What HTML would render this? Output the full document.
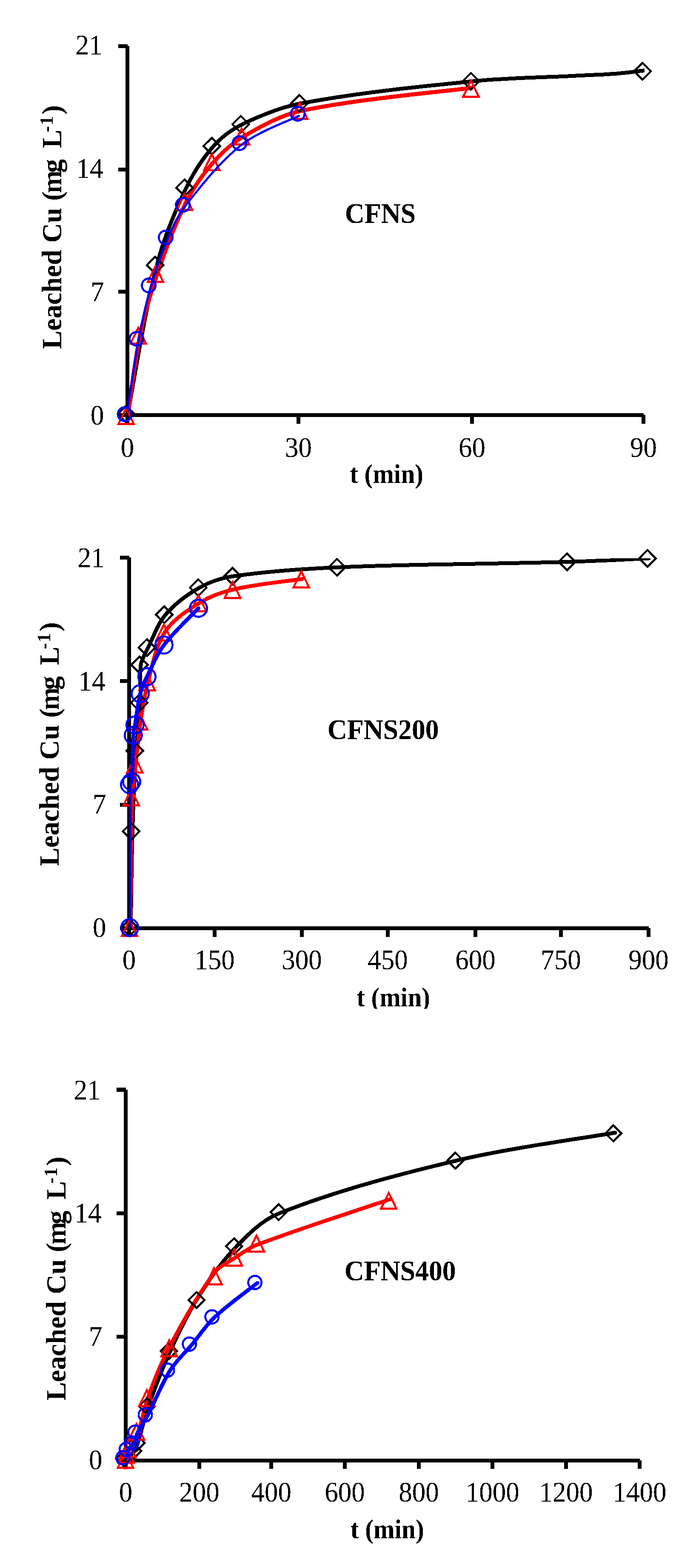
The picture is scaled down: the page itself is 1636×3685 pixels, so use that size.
<!DOCTYPE html>
<html><head><meta charset="utf-8"><title>Leached Cu vs time</title>
<style>html,body{margin:0;padding:0;background:#fff}svg{display:block}</style></head>
<body><svg width="1636" height="3685" viewBox="0 0 1636 3685">
<defs><filter id="bin" filterUnits="userSpaceOnUse" x="0" y="0" width="1636" height="3685" color-interpolation-filters="sRGB"><feComponentTransfer><feFuncR type="discrete" tableValues="0 1"/><feFuncG type="discrete" tableValues="0 1"/><feFuncB type="discrete" tableValues="0 1"/></feComponentTransfer></filter></defs>
<g filter="url(#bin)">
<rect width="1636" height="3685" fill="#fff"/>
<g fill="#000">
<rect x="295" y="108" width="9" height="872"/>
<rect x="295" y="971" width="1218" height="9"/>
<rect x="278" y="104" width="22" height="9"/>
<rect x="278" y="394" width="22" height="9"/>
<rect x="278" y="681" width="22" height="9"/>
<rect x="278" y="971" width="22" height="9"/>
<rect x="295" y="975" width="9" height="21"/>
<rect x="697" y="975" width="9" height="21"/>
<rect x="1105" y="975" width="9" height="21"/>
<rect x="1508" y="975" width="9" height="21"/>
</g>
<g font-family="'Liberation Serif','Times New Roman',Times,serif" font-size="67" fill="#000">
<text transform="translate(240.5 127.6) scale(0.94 1)" text-anchor="end">21</text>
<text transform="translate(242.5 417.8) scale(0.94 1)" text-anchor="end">14</text>
<text transform="translate(244.5 708) scale(0.94 1)" text-anchor="end">7</text>
<text transform="translate(244.5 998.2) scale(0.94 1)" text-anchor="end">0</text>
<text transform="translate(299.5 1073.7) scale(0.94 1)" text-anchor="middle">0</text>
<text transform="translate(701.5 1073.7) scale(0.94 1)" text-anchor="middle">30</text>
<text transform="translate(1109.5 1073.7) scale(0.94 1)" text-anchor="middle">60</text>
<text transform="translate(1512.5 1073.7) scale(0.94 1)" text-anchor="middle">90</text>
</g>
<text font-family="'Liberation Serif','Times New Roman',Times,serif" font-weight="bold" font-size="64" transform="translate(908.5 1135) scale(0.927 1)" text-anchor="middle">t (min)</text>
<text font-family="'Liberation Serif','Times New Roman',Times,serif" font-weight="bold" font-size="66" transform="translate(144 820.3) rotate(-90) scale(0.98 1)">Leached Cu (<tspan dx="-4">m</tspan><tspan dx="-6">g</tspan><tspan dx="10"> L</tspan><tspan font-size="44" dx="-6" dy="-20.4">-</tspan><tspan font-size="44" dx="2">1</tspan><tspan dx="4" dy="20.4">)</tspan></text>
<text font-family="'Liberation Serif','Times New Roman',Times,serif" font-weight="bold" font-size="67.7" transform="translate(810.8 523.6) scale(0.941 1)">CFNS</text>
<clipPath id="c1pa"><rect x="300" y="0" width="1336" height="975.5"/></clipPath>
<path clip-path="url(#c1pa)" fill="none" stroke-linejoin="round" stroke-linecap="butt" stroke="#000" stroke-width="9" d="M300 975 C311.4 916.4 338.9 738.5 368.7 623.2 C384.8 560.6 410 499.5 437.7 441.3 C454.4 406.3 476.4 372.2 501.9 343.4 C520.5 322.4 544.7 304.3 570 292 C613.3 270.9 660.1 251.9 707.8 243 C840.4 218.2 976.3 204.6 1111 191 C1190.3 183 1270.3 182.4 1350 178.2 C1383.3 176.4 1416.7 175.6 1450 173 C1471.7 171.3 1504.2 166.8 1515 165.5"/>
<path clip-path="url(#c1pa)" fill="none" stroke-linejoin="round" stroke-linecap="butt" stroke="#f00" stroke-width="9.5" d="M300.5 978 C305.2 946.5 316.1 851.3 329 789 C339.1 739.9 353.2 691.4 369.6 644 C389.5 586.5 410.5 528.4 437.8 474.3 C454.6 440.8 477.3 409.3 501.9 381.2 C522 358.2 545.7 336.4 572 321 C614.5 296.1 660.1 270.7 708.3 260.4 C839.7 232.4 1043.9 215.1 1111 206"/>
<g fill="none" stroke="#000" stroke-width="4.7" stroke-linejoin="miter" stroke-miterlimit="10">
<path d="M296.5 953.4L316.1 973L296.5 992.6L276.9 973Z"/>
<path d="M364.7 603.6L384.3 623.2L364.7 642.8L345.1 623.2Z"/>
<path d="M433.7 421.7L453.3 441.3L433.7 460.9L414.1 441.3Z"/>
<path d="M497.9 323.8L517.5 343.4L497.9 363L478.3 343.4Z"/>
<path d="M566 272.4L585.6 292L566 311.6L546.4 292Z"/>
<path d="M703.8 223.4L723.4 243L703.8 262.6L684.2 243Z"/>
<path d="M1107 171.4L1126.6 191L1107 210.6L1087.4 191Z"/>
<path d="M1510.4 147.9L1530 167.5L1510.4 187.1L1490.8 167.5Z"/>
</g>
<g fill="none" stroke="#f00" stroke-width="4.7" stroke-linejoin="miter" stroke-miterlimit="10">
<path d="M296.5 959.2L314.8 996.8L278.2 996.8Z"/>
<path d="M325 770.2L343.3 807.8L306.7 807.8Z"/>
<path d="M365.6 625.2L383.9 662.8L347.3 662.8Z"/>
<path d="M433.8 455.5L452.1 493.1L415.5 493.1Z"/>
<path d="M497.9 362.4L516.2 400L479.6 400Z"/>
<path d="M568 302.2L586.3 339.8L549.7 339.8Z"/>
<path d="M704.3 241.6L722.6 279.2L686 279.2Z"/>
<path d="M1107 189.6L1125.3 227.2L1088.7 227.2Z"/>
</g>
<path clip-path="url(#c1pa)" fill="none" stroke-linejoin="round" stroke-linecap="butt" stroke="#00f" stroke-width="5" d="M297.5 977.4 C302.2 947.9 314.5 859 325.5 800.3 C333.4 758.1 342.2 715.9 354.1 674.7 C365.1 636.5 378.5 598.7 394 562.2 C405.2 535.7 416.6 508.2 434.2 485.6 C474.4 434.2 516.8 380.6 567.5 340.4 C606.9 309.2 681.5 282.9 704.3 271.4"/>
<g fill="none" stroke="#00f" stroke-width="4.7">
<circle cx="293" cy="973.4" r="16.1"/>
<circle cx="321" cy="796.3" r="16.1"/>
<circle cx="349.6" cy="670.7" r="16.1"/>
<circle cx="389.5" cy="558.2" r="16.1"/>
<circle cx="429.7" cy="481.6" r="16.1"/>
<circle cx="563" cy="336.4" r="16.1"/>
<circle cx="699.8" cy="267.4" r="16.1"/>
</g>
<g fill="#000">
<rect x="299" y="1310" width="9" height="876"/>
<rect x="299" y="2177" width="1226" height="9"/>
<rect x="282" y="1306" width="22" height="9"/>
<rect x="282" y="1596" width="22" height="9"/>
<rect x="282" y="1886.8" width="22" height="9"/>
<rect x="282" y="2177" width="22" height="9"/>
<rect x="299" y="2181" width="9" height="20.8"/>
<rect x="500" y="2181" width="9" height="20.8"/>
<rect x="705" y="2181" width="9" height="20.8"/>
<rect x="907" y="2181" width="9" height="20.8"/>
<rect x="1112.9" y="2181" width="9" height="20.8"/>
<rect x="1314" y="2181" width="9" height="20.8"/>
<rect x="1520.1" y="2181" width="9" height="20.8"/>
</g>
<g font-family="'Liberation Serif','Times New Roman',Times,serif" font-size="67" fill="#000">
<text transform="translate(245.5 1332.7) scale(0.94 1)" text-anchor="end">21</text>
<text transform="translate(247.5 1622.5) scale(0.94 1)" text-anchor="end">14</text>
<text transform="translate(249.5 1912.4) scale(0.94 1)" text-anchor="end">7</text>
<text transform="translate(249.5 2202.2) scale(0.94 1)" text-anchor="end">0</text>
<text transform="translate(303.5 2277.6) scale(0.94 1)" text-anchor="middle">0</text>
<text transform="translate(504.5 2277.6) scale(0.94 1)" text-anchor="middle">150</text>
<text transform="translate(709.5 2277.6) scale(0.94 1)" text-anchor="middle">300</text>
<text transform="translate(911.5 2277.6) scale(0.94 1)" text-anchor="middle">450</text>
<text transform="translate(1117.4 2277.6) scale(0.94 1)" text-anchor="middle">600</text>
<text transform="translate(1318.5 2277.6) scale(0.94 1)" text-anchor="middle">750</text>
<text transform="translate(1524.6 2277.6) scale(0.94 1)" text-anchor="middle">900</text>
</g>
<clipPath id="c2xt"><rect x="0" y="0" width="1636" height="2371"/></clipPath>
<g clip-path="url(#c2xt)">
<text font-family="'Liberation Serif','Times New Roman',Times,serif" font-weight="bold" font-size="64" transform="translate(924.5 2365) scale(0.927 1)" text-anchor="middle">t (min)</text>
</g>
<text font-family="'Liberation Serif','Times New Roman',Times,serif" font-weight="bold" font-size="66" transform="translate(138 2035.3) rotate(-90) scale(0.98 1)">Leached Cu (<tspan dx="-4">m</tspan><tspan dx="-6">g</tspan><tspan dx="10"> L</tspan><tspan font-size="44" dx="-6" dy="-20.4">-</tspan><tspan font-size="44" dx="2">1</tspan><tspan dx="4" dy="20.4">)</tspan></text>
<text font-family="'Liberation Serif','Times New Roman',Times,serif" font-weight="bold" font-size="67.7" transform="translate(769.8 1737.3) scale(0.941 1)">CFNS200</text>
<clipPath id="c2pa"><rect x="304.5" y="1312.5" width="1331.5" height="869"/></clipPath>
<path clip-path="url(#c2pa)" fill="none" stroke-linejoin="round" stroke-linecap="round" stroke="#000" stroke-width="9" d="M307.4 2180 C308 2142.3 309 2029.2 311.3 1953.8 C313.2 1890.7 316 1827.7 320 1764.7 C322.4 1726.9 328.4 1689.3 330.5 1651.5 C332.1 1621.9 327 1591.4 331 1562.5 C333 1548.1 341.8 1535 348.3 1521.8 C361.1 1495.7 370.5 1466.3 389 1444.7 C410.7 1419.4 439.8 1397.5 469 1381 C493.3 1367.3 521.7 1358.1 549.6 1354 C630.4 1342.2 713.1 1336.7 795.1 1333.2 C975.1 1325.5 1155.6 1325.6 1335.8 1320.4 C1398.9 1318.6 1493.5 1313.7 1525 1312.3"/>
<path clip-path="url(#c2pa)" fill="none" stroke-linejoin="round" stroke-linecap="round" stroke="#f00" stroke-width="9" d="M306.4 2180 C307.1 2128.8 307.1 1975.2 310.5 1873 C311.3 1847.2 316.1 1821.7 319 1796 C322.8 1762.3 325.5 1728.5 330.5 1695 C335.2 1664 339.8 1632.6 348 1602.4 C358.7 1562.9 365.7 1518.8 387.3 1485.7 C405.9 1457 438.9 1435.5 468.6 1417 C492.6 1402 520.8 1391.8 548.6 1385.3 C601.4 1373 683.3 1364.8 710.2 1360.7"/>
<g fill="none" stroke="#000" stroke-width="4.7" stroke-linejoin="miter" stroke-miterlimit="10">
<path d="M304.4 2160.4L324 2180L304.4 2199.6L284.8 2180Z"/>
<path d="M308.3 1934.2L327.9 1953.8L308.3 1973.4L288.7 1953.8Z"/>
<path d="M317 1745.1L336.6 1764.7L317 1784.3L297.4 1764.7Z"/>
<path d="M327.5 1631.9L347.1 1651.5L327.5 1671.1L307.9 1651.5Z"/>
<path d="M328 1542.9L347.6 1562.5L328 1582.1L308.4 1562.5Z"/>
<path d="M345.3 1502.2L364.9 1521.8L345.3 1541.4L325.7 1521.8Z"/>
<path d="M386 1425.1L405.6 1444.7L386 1464.3L366.4 1444.7Z"/>
<path d="M466 1361.4L485.6 1381L466 1400.6L446.4 1381Z"/>
<path d="M546.6 1334.4L566.2 1354L546.6 1373.6L527 1354Z"/>
<path d="M792.1 1313.6L811.7 1333.2L792.1 1352.8L772.5 1333.2Z"/>
<path d="M1332.8 1300.8L1352.4 1320.4L1332.8 1340L1313.2 1320.4Z"/>
<path d="M1522 1292.7L1541.6 1312.3L1522 1331.9L1502.4 1312.3Z"/>
</g>
<g fill="none" stroke="#f00" stroke-width="4.7" stroke-linejoin="miter" stroke-miterlimit="10">
<path d="M304.4 2162.2L322.7 2199.8L286.1 2199.8Z"/>
<path d="M308.5 1855.2L326.8 1892.8L290.2 1892.8Z"/>
<path d="M317 1778.2L335.3 1815.8L298.7 1815.8Z"/>
<path d="M328.5 1677.2L346.8 1714.8L310.2 1714.8Z"/>
<path d="M346 1584.6L364.3 1622.2L327.7 1622.2Z"/>
<path d="M385.3 1467.9L403.6 1505.5L367 1505.5Z"/>
<path d="M466.6 1399.2L484.9 1436.8L448.3 1436.8Z"/>
<path d="M546.6 1367.5L564.9 1405.1L528.3 1405.1Z"/>
<path d="M708.2 1342.9L726.5 1380.5L689.9 1380.5Z"/>
</g>
<path clip-path="url(#c2pa)" fill="none" stroke-linejoin="round" stroke-linecap="round" stroke="#00f" stroke-width="9" d="M305 2180 C304.9 2124 303.1 1955.5 304.6 1844 C304.6 1841.1 309.4 1839.8 309.6 1837 C312.3 1801.2 311.2 1764.2 313.3 1728 C313.8 1719.8 316 1711.8 317.4 1703.7 C321.5 1679.2 323.7 1654.2 329.6 1630.2 C333 1616.4 339.1 1603.1 345.4 1590.3 C357.7 1565.1 368.5 1538.3 385.3 1516 C408.9 1484.7 453 1443.9 466.5 1429.5"/>
<g fill="none" stroke="#00f" stroke-width="4.7">
<circle cx="305" cy="2180" r="20.1"/>
<circle cx="304.6" cy="1844" r="20.1"/>
<circle cx="309.6" cy="1837" r="20.1"/>
<circle cx="313.3" cy="1728" r="20.1"/>
<circle cx="317.4" cy="1703.7" r="20.1"/>
<circle cx="329.6" cy="1630.2" r="20.1"/>
<circle cx="345.4" cy="1590.3" r="20.1"/>
<circle cx="385.3" cy="1516" r="20.1"/>
<circle cx="466.5" cy="1429.5" r="20.1"/>
</g>
<g fill="#000">
<rect x="291" y="2561" width="9" height="876"/>
<rect x="291" y="3428" width="1213" height="9"/>
<rect x="274" y="2556.5" width="22" height="9"/>
<rect x="274" y="2847" width="22" height="9"/>
<rect x="274" y="3136.8" width="22" height="9"/>
<rect x="274" y="3428" width="22" height="9"/>
<rect x="291" y="3432" width="9" height="20.4"/>
<rect x="463.9" y="3432" width="9" height="20.4"/>
<rect x="633.2" y="3432" width="9" height="20.4"/>
<rect x="806.1" y="3432" width="9" height="20.4"/>
<rect x="979.9" y="3432" width="9" height="20.4"/>
<rect x="1153.2" y="3432" width="9" height="20.4"/>
<rect x="1326.1" y="3432" width="9" height="20.4"/>
<rect x="1499.1" y="3432" width="9" height="20.4"/>
</g>
<g font-family="'Liberation Serif','Times New Roman',Times,serif" font-size="67" fill="#000">
<text transform="translate(236.5 2583.5) scale(0.94 1)" text-anchor="end">21</text>
<text transform="translate(238.5 2873.4) scale(0.94 1)" text-anchor="end">14</text>
<text transform="translate(240.5 3163.3) scale(0.94 1)" text-anchor="end">7</text>
<text transform="translate(240.5 3453.1) scale(0.94 1)" text-anchor="end">0</text>
<text transform="translate(295.5 3528.5) scale(0.94 1)" text-anchor="middle">0</text>
<text transform="translate(468.4 3528.5) scale(0.94 1)" text-anchor="middle">200</text>
<text transform="translate(637.7 3528.5) scale(0.94 1)" text-anchor="middle">400</text>
<text transform="translate(810.6 3528.5) scale(0.94 1)" text-anchor="middle">600</text>
<text transform="translate(984.4 3528.5) scale(0.94 1)" text-anchor="middle">800</text>
<text transform="translate(1157.7 3528.5) scale(0.94 1)" text-anchor="middle">1000</text>
<text transform="translate(1330.6 3528.5) scale(0.94 1)" text-anchor="middle">1200</text>
<text transform="translate(1503.6 3528.5) scale(0.94 1)" text-anchor="middle">1400</text>
</g>
<text font-family="'Liberation Serif','Times New Roman',Times,serif" font-weight="bold" font-size="64" transform="translate(910.2 3615.3) scale(0.927 1)" text-anchor="middle">t (min)</text>
<text font-family="'Liberation Serif','Times New Roman',Times,serif" font-weight="bold" font-size="66" transform="translate(154 3291.3) rotate(-90) scale(0.98 1)">Leached Cu (<tspan dx="-4">m</tspan><tspan dx="-6">g</tspan><tspan dx="10"> L</tspan><tspan font-size="44" dx="-6" dy="-20.4">-</tspan><tspan font-size="44" dx="2">1</tspan><tspan dx="4" dy="20.4">)</tspan></text>
<text font-family="'Liberation Serif','Times New Roman',Times,serif" font-weight="bold" font-size="67.7" transform="translate(809.8 3008.5) scale(0.941 1)">CFNS400</text>
<clipPath id="c3pa"><rect x="296" y="0" width="1340" height="3432.5"/></clipPath>
<path clip-path="url(#c3pa)" fill="none" stroke-linejoin="round" stroke-linecap="round" stroke="#000" stroke-width="9" d="M296 3432 C299.3 3428.3 310.5 3418.1 316 3410 C319.8 3404.4 321.9 3397.5 324 3391 C332.9 3362.5 339.1 3333.1 349 3305 C364.1 3262.1 380.3 3219.4 399 3178 C418.1 3135.7 438 3093.3 462.5 3054 C488.7 3012.1 517 2970 551 2934.5 C581.5 2902.5 615.1 2867.8 656 2851.6 C788.4 2799 930.9 2761.6 1071 2728 C1194.2 2698.4 1383.5 2673 1446 2662"/>
<path clip-path="url(#c3pa)" fill="none" stroke-linejoin="round" stroke-linecap="round" stroke="#f00" stroke-width="9" d="M297 3432 C297.6 3429.9 299.2 3423.6 300.4 3419.5 C301.7 3415 302.7 3410.3 304.6 3406 C310.9 3392.3 320 3379.7 325 3365.5 C334.5 3338.7 338.2 3309.7 348 3283 C362.7 3242.9 378.4 3202.7 398.5 3165 C430.1 3105.7 463.7 3045.6 503 2992 C514.5 2976.3 534.5 2967.9 551 2957 C568.1 2945.7 584.8 2932.8 604 2925.5 C706.7 2886.6 864.5 2836.3 916.6 2818.5"/>
<g fill="none" stroke="#000" stroke-width="4.7" stroke-linejoin="miter" stroke-miterlimit="10">
<path d="M292 3409.2L310.8 3428L292 3446.8L273.2 3428Z"/>
<path d="M313 3391.2L331.8 3410L313 3428.8L294.2 3410Z"/>
<path d="M321 3372.2L339.8 3391L321 3409.8L302.2 3391Z"/>
<path d="M345.4 3286.2L364.2 3305L345.4 3323.8L326.6 3305Z"/>
<path d="M397 3156.2L415.8 3175L397 3193.8L378.2 3175Z"/>
<path d="M462 3036.4L480.8 3055.2L462 3074L443.2 3055.2Z"/>
<path d="M550.3 2910L569.1 2928.8L550.3 2947.6L531.5 2928.8Z"/>
<path d="M655.1 2829.9L673.9 2848.7L655.1 2867.5L636.3 2848.7Z"/>
<path d="M1070.4 2708.8L1089.2 2727.6L1070.4 2746.4L1051.6 2727.6Z"/>
<path d="M1441.7 2644.6L1460.5 2663.4L1441.7 2682.2L1422.9 2663.4Z"/>
</g>
<g fill="none" stroke="#f00" stroke-width="4.7" stroke-linejoin="miter" stroke-miterlimit="10">
<path d="M295 3412.2L313.3 3449.8L276.7 3449.8Z"/>
<path d="M296.4 3400.2L314.7 3437.8L278.1 3437.8Z"/>
<path d="M300.6 3386.7L318.9 3424.3L282.3 3424.3Z"/>
<path d="M321 3346.2L339.3 3383.8L302.7 3383.8Z"/>
<path d="M345.4 3266.7L363.7 3304.3L327.1 3304.3Z"/>
<path d="M397.6 3149.7L415.9 3187.3L379.3 3187.3Z"/>
<path d="M503 2980.5L521.3 3018.1L484.7 3018.1Z"/>
<path d="M550.5 2936.5L568.8 2974.1L532.2 2974.1Z"/>
<path d="M602.7 2903.8L621 2941.4L584.4 2941.4Z"/>
<path d="M913.7 2803.3L932 2840.9L895.4 2840.9Z"/>
</g>
<path clip-path="url(#c3pa)" fill="none" stroke-linejoin="round" stroke-linecap="round" stroke="#00f" stroke-width="9" d="M294.9 3426.9 C296.2 3423.6 299.1 3413.1 302.7 3407 C305.9 3401.5 312.4 3397.9 315.3 3392.3 C319.3 3384.5 319.5 3374.7 323.4 3366.7 C330.2 3352.6 340.2 3340 347.5 3326 C365.6 3291.4 379.1 3253.9 399.6 3221 C413.6 3198.5 434.1 3180.3 451.2 3159.8 C469 3138.5 484.1 3114.7 504.2 3095.8 C535.4 3066.4 588.3 3028.5 605.1 3015"/>
<g fill="none" stroke="#00f" stroke-width="4.7">
<circle cx="288.9" cy="3425.9" r="15.6"/>
<circle cx="296.7" cy="3406" r="15.6"/>
<circle cx="309.3" cy="3391.3" r="15.6"/>
<circle cx="317.4" cy="3365.7" r="15.6"/>
<circle cx="341.5" cy="3325" r="15.6"/>
<circle cx="393.6" cy="3220" r="15.6"/>
<circle cx="445.2" cy="3158.8" r="15.6"/>
<circle cx="498.2" cy="3094.8" r="15.6"/>
<circle cx="599.1" cy="3014" r="15.6"/>
</g>
</g>
</svg></body></html>
